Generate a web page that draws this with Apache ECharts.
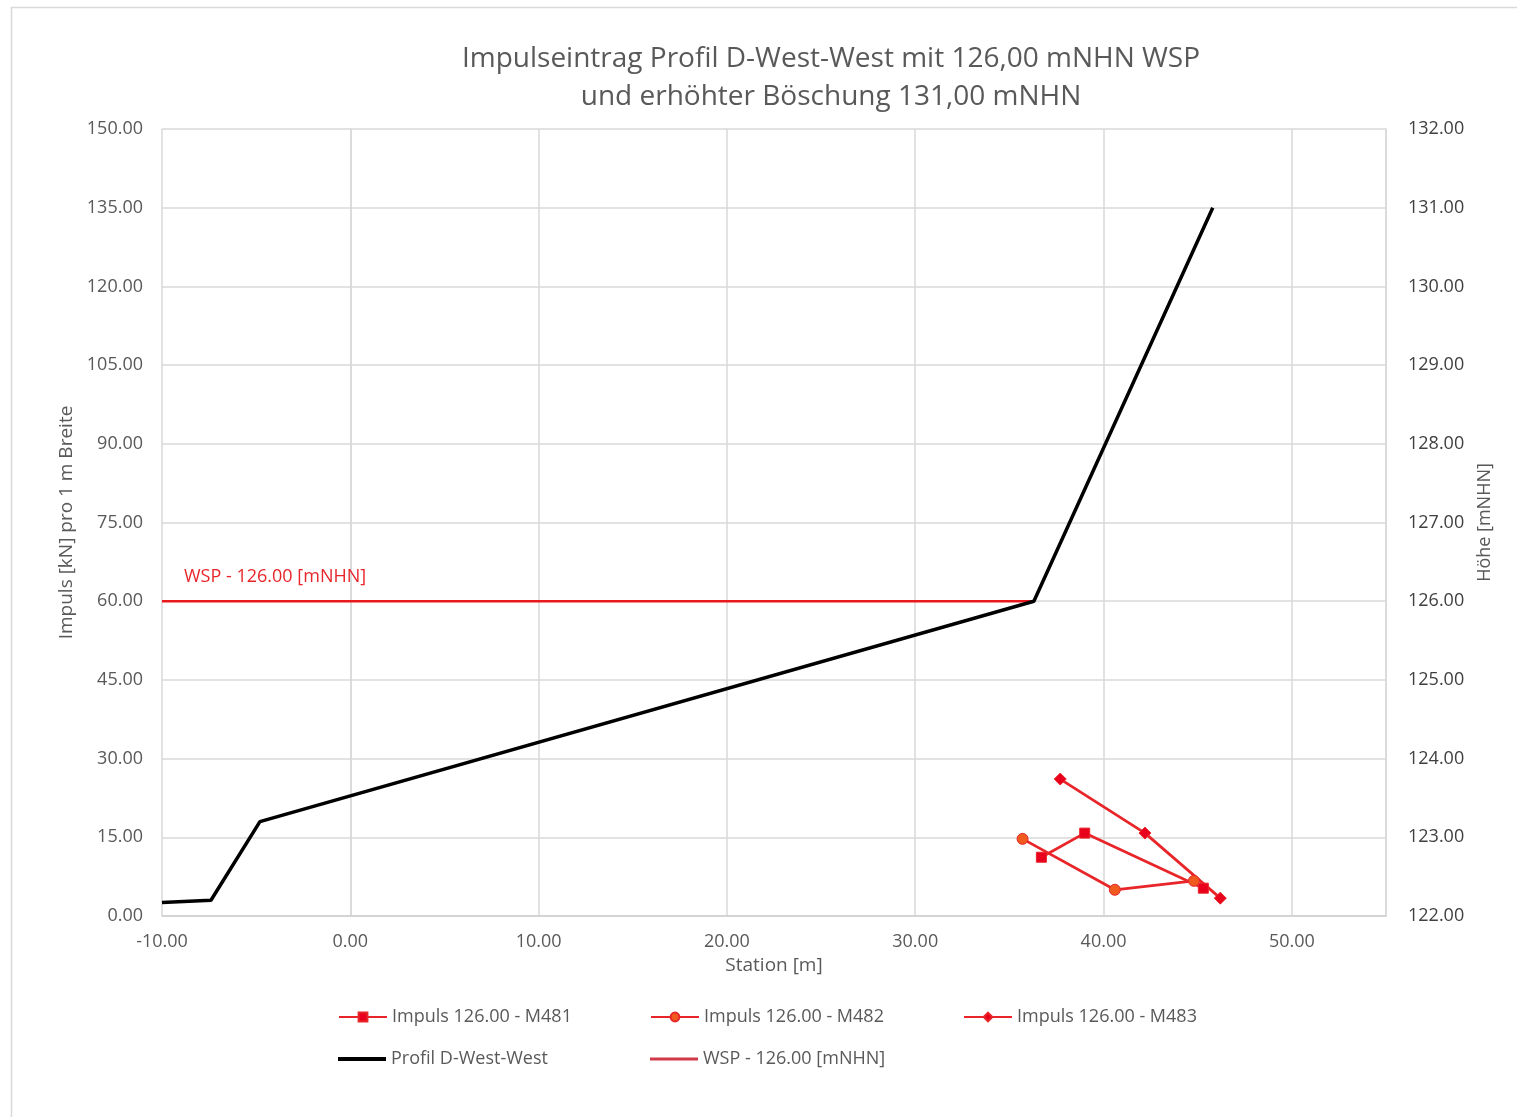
<!DOCTYPE html>
<html>
<head>
<meta charset="utf-8">
<script src="https://cdn.jsdelivr.net/npm/echarts@6/dist/echarts.min.js"></script>
<style>
  html, body { margin: 0; padding: 0; background: #fff; }
  #chart { width: 1517px; height: 1117px; }
</style>
</head>
<body>
<div id="chart"></div>
<script>
// profile line (right axis, height in mNHN)
const profileX = [-10, -7.4, -4.8, 36.3, 45.8];
const profileY = [122.17, 122.2, 123.2, 126.0, 131.0];

// water level line
const wspX = [-10, 36.3];
const wspY = [126.0, 126.0];

// impulse series (left axis, kN per 1 m)
const m481X = [36.7, 39.0, 45.3];
const m481Y = [11.2, 15.8, 5.3];
const m482X = [35.7, 40.6, 44.8];
const m482Y = [14.7, 5.0, 6.7];
const m483X = [37.7, 42.2, 46.2];
const m483Y = [26.1, 15.8, 3.4];

const FONT = 'Open Sans';
const GRAY = '#595959';

const zip = (xs, ys) => xs.map((x, i) => [x, ys[i]]);
const fmt = v => v.toFixed(2);

const chart = echarts.init(document.getElementById('chart'));

const impulsSeries = (name, xs, ys, symbol, size, fill) => ({
  name: name,
  type: 'line',
  yAxisIndex: 0,
  data: zip(xs, ys),
  symbol: symbol,
  symbolSize: size,
  showSymbol: true,
  lineStyle: { color: '#e8262a', width: 2.8 },
  itemStyle: { color: fill, borderColor: '#e8262a', borderWidth: 1 },
  z: 5
});

// one legend per entry so the columns line up like the original
const legendAt = (name, left, top, lineOnly, h) => ({
  left: left,
  top: top,
  itemWidth: 48,
  itemHeight: h || 11,
  data: [lineOnly ? { name: name, icon: 'rect' } : name],
  textStyle: { fontFamily: FONT, fontSize: 18, color: GRAY }
});

const option = {
  animation: false,
  backgroundColor: '#fff',
  textStyle: { fontFamily: FONT },
  title: {
    text: 'Impulseintrag Profil D-West-West mit 126,00 mNHN WSP\nund erhöhter Böschung 131,00 mNHN',
    left: 826,
    top: 35,
    textAlign: 'center',
    textStyle: {
      fontFamily: FONT,
      fontSize: 28,
      fontWeight: 'normal',
      color: GRAY,
      lineHeight: 38,
      align: 'center'
    }
  },
  graphic: [{
    type: 'rect',
    shape: { x: 11.5, y: 7.5, width: 1520, height: 1120 },
    style: { fill: 'none', stroke: '#d9d9d9', lineWidth: 1.5 },
    silent: true
  }],
  grid: { left: 162, right: 131, top: 129, bottom: 201 },
  legend: [
    legendAt('Impuls 126.00 - M481', 333, 1003),
    legendAt('Impuls 126.00 - M482', 645, 1003),
    legendAt('Impuls 126.00 - M483', 958, 1003),
    legendAt('Profil D-West-West', 333, 1045, true, 4),
    legendAt('WSP - 126.00 [mNHN]', 645, 1045, true, 3)
  ],
  xAxis: {
    type: 'value',
    min: -10,
    max: 55,
    interval: 10,
    name: 'Station [m]',
    nameLocation: 'middle',
    nameGap: 22,
    nameTextStyle: { fontFamily: FONT, fontSize: 19, color: GRAY },
    axisLine: { show: true, lineStyle: { color: '#d0d0d0', width: 1.5 } },
    axisTick: { show: false },
    axisLabel: { formatter: fmt, fontFamily: FONT, fontSize: 18, color: GRAY, margin: 17, showMaxLabel: false },
    splitLine: { show: true, lineStyle: { color: '#d9d9d9', width: 1.5 } }
  },
  yAxis: [{
    type: 'value',
    position: 'left',
    min: 0,
    max: 150,
    interval: 15,
    name: 'Impuls [kN] pro 1 m Breite',
    nameLocation: 'middle',
    nameRotate: 90,
    nameGap: 84,
    nameTextStyle: { fontFamily: FONT, fontSize: 19, color: GRAY },
    axisLine: { show: true, lineStyle: { color: '#d9d9d9', width: 1.5 } },
    axisTick: { show: false },
    axisLabel: { formatter: fmt, fontFamily: FONT, fontSize: 18, color: GRAY, margin: 19 },
    splitLine: { show: true, lineStyle: { color: '#d9d9d9', width: 1.5 } }
  }, {
    type: 'value',
    position: 'right',
    min: 122,
    max: 132,
    interval: 1,
    name: 'Höhe [mNHN]',
    nameLocation: 'middle',
    nameRotate: 90,
    nameGap: 90,
    nameTextStyle: { fontFamily: FONT, fontSize: 18, color: GRAY },
    axisLine: { show: true, lineStyle: { color: '#d9d9d9', width: 1.5 } },
    axisTick: { show: false },
    axisLabel: { formatter: fmt, fontFamily: FONT, fontSize: 18, color: '#404040', margin: 22 },
    splitLine: { show: false }
  }],
  series: [
    impulsSeries('Impuls 126.00 - M481', m481X, m481Y, 'rect', 10, '#e8001c'),
    impulsSeries('Impuls 126.00 - M482', m482X, m482Y, 'circle', 11, '#f05a1e'),
    impulsSeries('Impuls 126.00 - M483', m483X, m483Y, 'diamond', 12, '#e8001c'),
    {
      name: 'Profil D-West-West',
      type: 'line',
      yAxisIndex: 1,
      data: zip(profileX, profileY),
      symbol: 'none',
      lineStyle: { color: '#000', width: 3.5 },
      itemStyle: { color: '#000' },
      z: 4
    },
    {
      name: 'WSP - 126.00 [mNHN]',
      type: 'line',
      yAxisIndex: 1,
      data: zip(wspX, wspY),
      symbol: 'none',
      lineStyle: { color: '#e8191d', width: 2.5 },
      itemStyle: { color: '#d03a48' },
      markPoint: {
        silent: true,
        symbol: 'circle',
        symbolSize: 0,
        data: [{
          coord: zip(wspX, wspY)[0],
          label: {
            show: true,
            position: 'top',
            align: 'left',
            offset: [22, -10],
            formatter: 'WSP - 126.00 [mNHN]',
            fontFamily: FONT,
            fontSize: 18,
            color: '#e8262a'
          }
        }]
      },
      z: 3
    }
  ]
};

chart.setOption(option);
</script>
</body>
</html>
